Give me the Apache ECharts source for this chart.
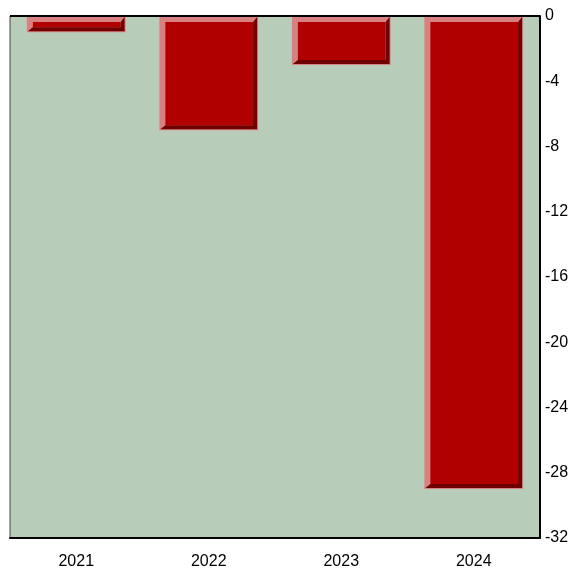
<!DOCTYPE html>
<html>
<head>
<meta charset="utf-8">
<script src="https://cdn.jsdelivr.net/npm/echarts@6/dist/echarts.min.js"></script>
<style>
  html, body { margin: 0; padding: 0; background: #fff; }
  #chart { width: 569px; height: 568px; }
</style>
</head>
<body>
<div id="chart"></div>
<script>
(function() {
  'use strict';

  var years = ['2021', '2022', '2023', '2024'];
  var values = [-1, -7, -3, -29];
  var yTicks = { min: -32, max: 0, step: 4 };

  var light = '#d98080';
  var main = '#b00000';
  var dark = '#6e0000';

  function renderBevelBar(params, api) {
    var i = api.value(0);
    var v = api.value(1);
    var base = api.coord([i, 0]);
    var end = api.coord([i, v]);
    var w = api.size([1, 0])[0] * 0.745;
    var x0 = base[0] - w / 2;
    var x1 = x0 + w;
    var y0 = Math.min(base[1], end[1]);
    var y1 = Math.max(base[1], end[1]);
    return {
      type: 'group',
      children: [
        { type: 'rect', shape: { x: x0, y: y0, width: w, height: y1 - y0 }, style: { fill: light } },
        { type: 'polygon', shape: { points: [
          [x1 - 1, y0 + 1], [x1 - 1, y1 - 1], [x0 + 1, y1 - 1],
          [x0 + 6, y1 - 5], [x1 - 5, y1 - 5], [x1 - 5, y0 + 6]
        ] }, style: { fill: dark } },
        { type: 'rect', shape: { x: x0 + 6, y: y0 + 6, width: Math.max(0, w - 11), height: Math.max(0, y1 - y0 - 11) }, style: { fill: main } }
      ]
    };
  }

  var chart = echarts.init(document.getElementById('chart'), null, { renderer: 'canvas' });

  chart.setOption({
    animation: false,
    grid: {
      left: 10, right: 29, top: 16, bottom: 30,
      outerBoundsMode: 'none',
      containLabel: false,
      show: true,
      backgroundColor: '#b8cdb9',
      borderColor: '#444',
      borderWidth: 1
    },
    xAxis: {
      type: 'category',
      data: years,
      position: 'bottom',
      axisLine: { onZero: false, lineStyle: { color: '#000', width: 2 } },
      axisTick: { show: false },
      axisLabel: { color: '#000', fontSize: 16, fontFamily: 'Liberation Sans, Arial', margin: 16 }
    },
    yAxis: {
      type: 'value',
      position: 'right',
      min: yTicks.min,
      max: yTicks.max,
      interval: yTicks.step,
      axisLine: { show: true, lineStyle: { color: '#000', width: 2 } },
      axisTick: { show: false },
      splitLine: { show: false },
      axisLabel: { color: '#000', fontSize: 16, fontFamily: 'Liberation Sans, Arial', margin: 5 }
    },
    series: [{
      type: 'custom',
      renderItem: renderBevelBar,
      encode: { x: 0, y: 1 },
      data: years.map(function(y, i) { return [i, values[i]]; })
    }, {
      // top border line of the plot
      type: 'line',
      data: [],
      markLine: {
        silent: true, symbol: 'none', label: { show: false },
        lineStyle: { color: '#000', width: 2, type: 'solid' },
        data: [{ yAxis: 0 }]
      }
    }]
  });
})();
</script>
</body>
</html>
